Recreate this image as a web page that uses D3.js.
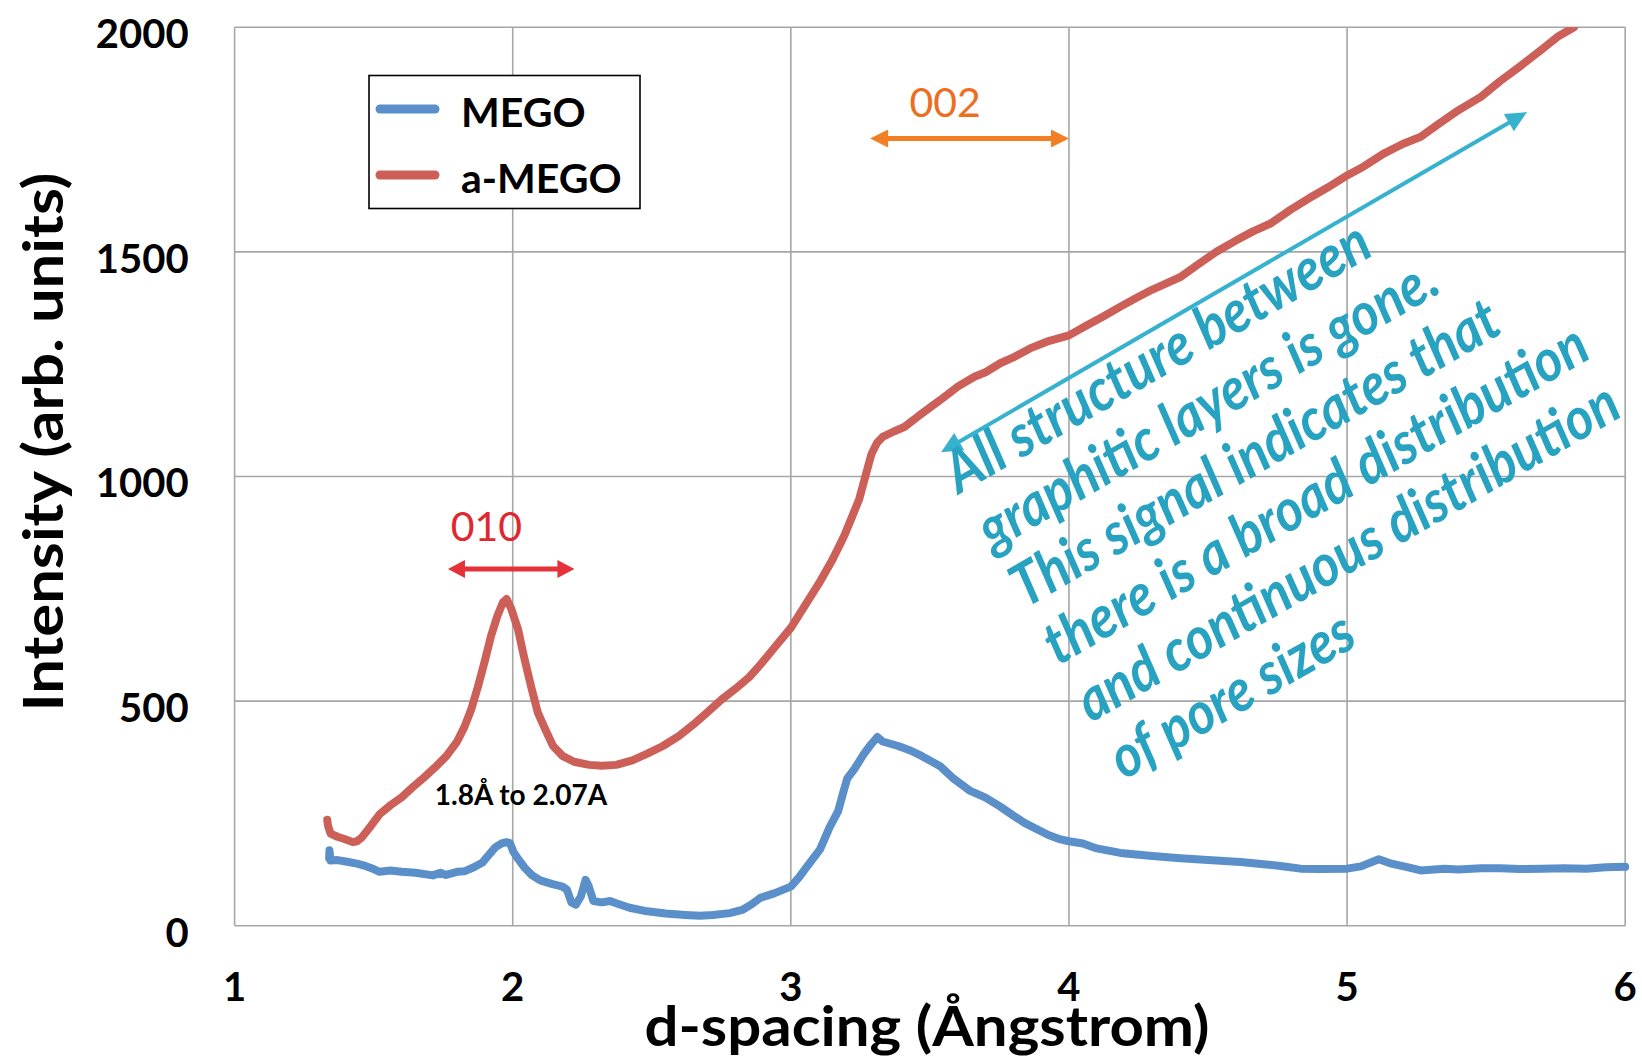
<!DOCTYPE html>
<html lang="en">
<head>
<meta charset="UTF-8">
<title>MEGO vs a-MEGO d-spacing</title>
<script src="https://d3js.org/d3.v7.min.js"></script>
<style>
    body { margin: 0; background: #fff; }
    svg text { font-family: Lato, "Open Sans", sans-serif; }
</style>
</head>
<body>
<div id="chart"></div>
<script>
// d-spacing (Å) / intensity pairs
const megoPoints = [
    [1.340, 150], [1.341, 168], [1.345, 145], [1.37, 146], [1.40, 143], [1.44, 138], [1.47, 133],
    [1.50, 126], [1.521, 120], [1.56, 123], [1.601, 120], [1.65, 118], [1.713, 112], [1.74, 118],
    [1.76, 113], [1.80, 120], [1.826, 121], [1.86, 130], [1.89, 140], [1.915, 158], [1.938, 175],
    [1.96, 183], [1.978, 186], [1.99, 184], [2.002, 165], [2.02, 148], [2.043, 129], [2.07, 112],
    [2.099, 101], [2.14, 93], [2.179, 87], [2.195, 80], [2.211, 52], [2.227, 47], [2.245, 65],
    [2.262, 102], [2.272, 90], [2.29, 55], [2.32, 52], [2.35, 55], [2.372, 50], [2.42, 40],
    [2.484, 32], [2.55, 27], [2.62, 24], [2.673, 22], [2.72, 24], [2.78, 28], [2.825, 35],
    [2.86, 48], [2.89, 62], [2.94, 72], [3.0, 87], [3.03, 108], [3.062, 135], [3.105, 170],
    [3.14, 220], [3.17, 255], [3.19, 300], [3.203, 328], [3.23, 350], [3.26, 380], [3.29, 405],
    [3.311, 420], [3.33, 410], [3.386, 400], [3.43, 390], [3.47, 378], [3.537, 355], [3.58, 330],
    [3.645, 300], [3.70, 285], [3.753, 265], [3.80, 245], [3.84, 229], [3.926, 202], [3.97, 192],
    [4.0, 188], [4.05, 183], [4.10, 172], [4.185, 162], [4.30, 155], [4.401, 150], [4.50, 146],
    [4.617, 142], [4.70, 137], [4.76, 133], [4.833, 127], [4.90, 126], [5.0, 127], [5.05, 132],
    [5.114, 148], [5.16, 138], [5.22, 130], [5.265, 123], [5.35, 127], [5.40, 125], [5.481, 128],
    [5.55, 128], [5.62, 126], [5.70, 127], [5.78, 128], [5.86, 127], [5.93, 130], [6.0, 131]
];

const aMegoPoints = [
    [1.333, 236], [1.336, 222], [1.345, 205], [1.37, 198], [1.40, 192], [1.425, 186], [1.44, 188],
    [1.457, 196], [1.49, 222], [1.521, 248], [1.56, 268], [1.601, 286], [1.64, 308], [1.681, 330],
    [1.72, 352], [1.762, 378], [1.80, 410], [1.826, 442], [1.85, 480], [1.874, 530], [1.90, 590],
    [1.922, 645], [1.945, 690], [1.965, 720], [1.978, 727], [1.995, 705], [2.019, 660], [2.04, 600],
    [2.067, 530], [2.09, 475], [2.115, 440], [2.145, 400], [2.179, 378], [2.22, 365], [2.275, 358],
    [2.32, 356], [2.372, 358], [2.43, 368], [2.484, 383], [2.54, 400], [2.597, 422], [2.65, 448],
    [2.70, 475], [2.75, 503], [2.80, 527], [2.85, 553], [2.889, 580], [2.94, 618], [3.0, 663],
    [3.05, 712], [3.105, 766], [3.15, 815], [3.192, 868], [3.22, 910], [3.246, 950], [3.27, 1005],
    [3.29, 1050], [3.31, 1075], [3.33, 1088], [3.37, 1100], [3.408, 1110], [3.46, 1135],
    [3.537, 1170], [3.60, 1200], [3.66, 1222], [3.70, 1232], [3.753, 1252], [3.80, 1265],
    [3.86, 1285], [3.92, 1300], [4.0, 1314], [4.06, 1335], [4.12, 1355], [4.185, 1378],
    [4.25, 1400], [4.30, 1416], [4.35, 1430], [4.401, 1444], [4.46, 1470], [4.53, 1500],
    [4.60, 1525], [4.66, 1545], [4.725, 1563], [4.80, 1595], [4.86, 1618], [4.93, 1643],
    [5.0, 1670], [5.06, 1690], [5.13, 1718], [5.20, 1740], [5.265, 1756], [5.33, 1785],
    [5.40, 1815], [5.481, 1845], [5.55, 1880], [5.62, 1912], [5.697, 1949], [5.76, 1980], [5.816, 2000]
];

const seriesNames = ["MEGO", "a-MEGO"];
const seriesColors = ["#5b8fc9", "#cc6058"];
const xTicks = [1, 2, 3, 4, 5, 6];
const yTicks = [0, 500, 1000, 1500, 2000];

// annotation arrows in data units: [x0, x1, y0, y1]
const peak010 = { label: "010", arrow: [1.767, 2.222, 794, 794], text: [1.905, 856] };
const peak002 = { label: "002", arrow: [3.285, 4.0, 1752, 1752], text: [3.555, 1800] };
const rangeNote = { label: "1.8Å to 2.07A", at: [2.03, 268] };
const slopeArrow = [3.54, 5.647, 1054, 1811];
const noteLines = [
    "All structure between",
    "graphitic layers is gone.",
    "This signal indicates that",
    "there is a broad distribution",
    "and continuous distribution",
    "of pore sizes"
];
const noteStart = [3.605, 960];

const width = 1642;
const height = 1058;
const margin = { top: 27.2, right: 16.8, bottom: 132.3, left: 234.6 };

const svg = d3.select("#chart").append("svg")
    .attr("width", width)
    .attr("height", height);

const x = d3.scaleLinear().domain([1, 6]).range([margin.left, width - margin.right]);
const y = d3.scaleLinear().domain([0, 2000]).range([height - margin.bottom, margin.top]);

// grid
const grid = svg.append("g").attr("stroke", "#a6a6a6").attr("stroke-width", 1.6);
grid.selectAll(".vx").data(xTicks).enter().append("line")
    .attr("x1", d => x(d)).attr("x2", d => x(d))
    .attr("y1", y(0)).attr("y2", y(2000));
grid.selectAll(".hy").data(yTicks).enter().append("line")
    .attr("x1", x(1)).attr("x2", x(6))
    .attr("y1", d => y(d)).attr("y2", d => y(d));

// tick labels
svg.append("g").selectAll("text").data(yTicks).enter().append("text")
    .attr("x", margin.left - 46)
    .attr("y", d => y(d) + 21)
    .attr("text-anchor", "end")
    .attr("font-size", 40).attr("font-weight", 700)
    .text(d => d);

svg.append("g").selectAll("text").data(xTicks).enter().append("text")
    .attr("x", d => x(d))
    .attr("y", 1001)
    .attr("text-anchor", "middle")
    .attr("font-size", 40).attr("font-weight", 700)
    .text(d => d);

// axis titles
svg.append("text")
    .attr("x", 927).attr("y", 1046)
    .attr("text-anchor", "middle")
    .attr("font-size", 55).attr("font-weight", 700)
    .attr("textLength", 565).attr("lengthAdjust", "spacingAndGlyphs")
    .text("d-spacing (Ångstrom)");

svg.append("text")
    .attr("transform", "translate(63,442) rotate(-90)")
    .attr("text-anchor", "middle")
    .attr("font-size", 56).attr("font-weight", 700)
    .attr("textLength", 539).attr("lengthAdjust", "spacingAndGlyphs")
    .text("Intensity (arb. units)");

// curves
svg.append("clipPath").attr("id", "plot-clip")
    .append("rect")
    .attr("x", x(1)).attr("y", y(2000))
    .attr("width", x(6) - x(1) + 4).attr("height", y(0) - y(2000) + 4);

const line = d3.line().x(d => x(d[0])).y(d => y(d[1]));

svg.append("g").attr("clip-path", "url(#plot-clip)")
    .selectAll("path").data([megoPoints, aMegoPoints]).enter().append("path")
    .attr("d", line)
    .attr("fill", "none")
    .attr("stroke", (d, i) => seriesColors[i])
    .attr("stroke-width", 8)
    .attr("stroke-linejoin", "round")
    .attr("stroke-linecap", "round");

// legend
const legend = svg.append("g");
legend.append("rect")
    .attr("x", 369).attr("y", 75.5)
    .attr("width", 271).attr("height", 133)
    .attr("fill", "#fff").attr("stroke", "#000").attr("stroke-width", 1.6);
seriesNames.forEach((name, i) => {
    const ly = 109 + i * 66;
    legend.append("line")
        .attr("x1", 380).attr("x2", 435)
        .attr("y1", ly).attr("y2", ly)
        .attr("stroke", seriesColors[i]).attr("stroke-width", 9)
        .attr("stroke-linecap", "round");
    legend.append("text")
        .attr("x", 461).attr("y", ly + 18)
        .attr("font-size", 41).attr("font-weight", 700)
        .text(name);
});

// double-headed arrow helper
function doubleArrow(x0, y0, x1, y1, color, shaft, headLen, headHalf) {
    const ang = Math.atan2(y1 - y0, x1 - x0);
    const g = svg.append("g").attr("transform", `translate(${x0},${y0}) rotate(${ang * 180 / Math.PI})`);
    const len = Math.hypot(x1 - x0, y1 - y0);
    g.append("line")
        .attr("x1", headLen - 1).attr("x2", len - headLen + 1)
        .attr("y1", 0).attr("y2", 0)
        .attr("stroke", color).attr("stroke-width", shaft);
    g.append("path")
        .attr("d", `M0,0 L${headLen},${-headHalf} L${headLen},${headHalf} Z`)
        .attr("fill", color);
    g.append("path")
        .attr("d", `M${len},0 L${len - headLen},${-headHalf} L${len - headLen},${headHalf} Z`)
        .attr("fill", color);
}

// 010 annotation
doubleArrow(x(peak010.arrow[0]), y(peak010.arrow[2]), x(peak010.arrow[1]), y(peak010.arrow[3]),
    "#e5313a", 5, 17, 9);
svg.append("text")
    .attr("x", x(peak010.text[0])).attr("y", y(peak010.text[1]))
    .attr("text-anchor", "middle")
    .attr("font-size", 41).attr("fill", "#e0262f")
    .text(peak010.label);

// 002 annotation
doubleArrow(x(peak002.arrow[0]), y(peak002.arrow[2]), x(peak002.arrow[1]), y(peak002.arrow[3]),
    "#f27f24", 5, 18, 9);
svg.append("text")
    .attr("x", x(peak002.text[0])).attr("y", y(peak002.text[1]))
    .attr("text-anchor", "middle")
    .attr("font-size", 41).attr("fill", "#ec6e1e")
    .text(peak002.label);

svg.append("text")
    .attr("x", x(rangeNote.at[0])).attr("y", y(rangeNote.at[1]))
    .attr("text-anchor", "middle")
    .attr("font-size", 28).attr("font-weight", 700)
    .text(rangeNote.label);

// teal arrow and note
doubleArrow(x(slopeArrow[0]), y(slopeArrow[2]), x(slopeArrow[1]), y(slopeArrow[3]),
    "#37b2ce", 4, 21, 10);

// narrow the glyphs a bit (the original face is condensed)
const squeeze = 0.9;
const note = svg.append("g")
    .attr("transform", `translate(${x(noteStart[0])},${y(noteStart[1])}) rotate(-30) scale(${squeeze},1)`);
const noteText = note.append("text")
    .attr("font-size", 100).attr("font-weight", 700).attr("font-style", "italic")
    .attr("fill", "#27a2c0");
noteLines.forEach((t, i) => {
    noteText.append("tspan").attr("x", 0).attr("y", i * 66).text(t);
});
// fit the font so the longest line spans about 618 px on screen
const probe = noteText.selectAll("tspan").nodes()[3].getComputedTextLength();
noteText.attr("font-size", 100 * 618 / (probe * squeeze));
</script>
</body>
</html>
